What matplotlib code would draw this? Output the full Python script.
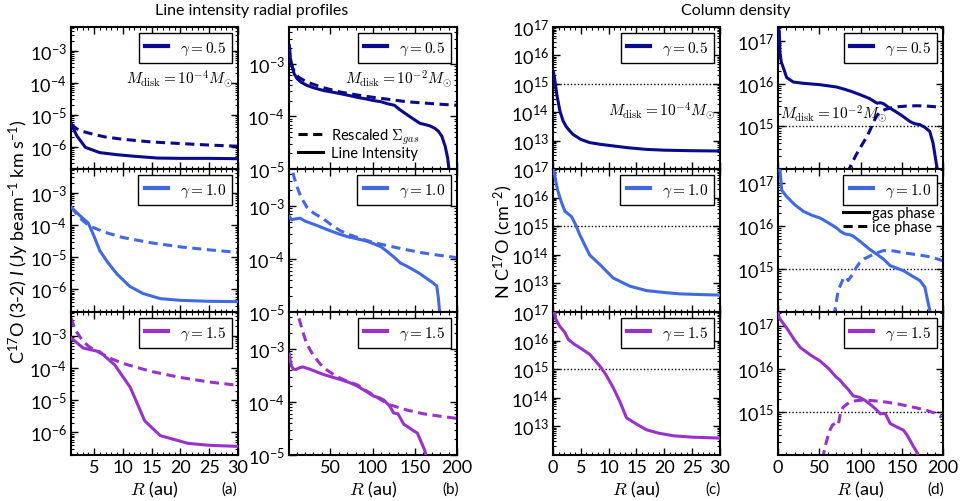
import matplotlib
matplotlib.use('Agg')
import matplotlib.pyplot as plt
from matplotlib.lines import Line2D
from matplotlib.ticker import MultipleLocator, FixedLocator, LogLocator, NullFormatter, LogFormatterSciNotation

# ---------------- data ----------------
gammas = ["$\\gamma=0.5$", "$\\gamma=1.0$", "$\\gamma=1.5$"]
colors = ["#0a0a8c", "#4169e1", "#9932cc"]

# Panel (a): line intensity, Mdisk=1e-4
a1_sol_r = [1, 2, 3.5, 6, 9, 12, 16, 20, 25, 30]
a1_sol_v = [5.2e-6, 2.2e-6, 9.5e-7, 6.5e-7, 5.6e-7, 5.0e-7, 4.4e-7, 4.3e-7, 4.3e-7, 4.2e-7]
a1_das_r = [1, 2, 3, 5, 7, 10, 15, 20, 25, 30]
a1_das_v = [5.0e-6, 3.6e-6, 3.0e-6, 2.4e-6, 2.0e-6, 1.7e-6, 1.4e-6, 1.25e-6, 1.12e-6, 1.03e-6]
a2_sol_r = [1, 2.5, 4, 5, 6, 7.5, 9, 11.2, 13.5, 16.5, 20, 25, 30]
a2_sol_v = [3.6e-4, 2.0e-4, 1.15e-4, 4.5e-5, 1.6e-5, 6.5e-6, 3.0e-6, 1.25e-6, 7.5e-7, 5.2e-7, 4.6e-7, 4.3e-7, 4.2e-7]
a2_das_r = [1, 2, 3, 4, 5, 7, 10, 15, 20, 25, 30]
a2_das_v = [3.6e-4, 2.2e-4, 1.4e-4, 1.0e-4, 8.2e-5, 5.9e-5, 4.1e-5, 2.8e-5, 2.1e-5, 1.7e-5, 1.42e-5]
a3_sol_r = [1, 3.1, 6, 8.6, 11.3, 13.8, 16.5, 21.3, 25, 30]
a3_sol_v = [8.7e-4, 4.2e-4, 3.2e-4, 1.25e-4, 2.5e-5, 2.3e-6, 8.0e-7, 4.6e-7, 4.0e-7, 3.7e-7]
a3_das_r = [1, 1.5, 2, 3, 4, 5, 6, 8, 10, 12, 15, 20, 25, 30]
a3_das_v = [3.6e-3, 2.0e-3, 1.3e-3, 7.2e-4, 4.8e-4, 3.7e-4, 3.0e-4, 1.95e-4, 1.4e-4, 1.1e-4, 7.8e-5, 5.1e-5, 3.7e-5, 2.9e-5]

# Panel (b): line intensity, Mdisk=1e-2
b1_sol_r = [1.5, 2.5, 4.7, 7, 10.6, 15, 22, 30, 42, 52, 62, 72, 82, 92, 101, 110, 117, 122, 126, 132, 140, 148, 156, 162, 168, 174, 178, 182, 186, 189, 192]
b1_sol_v = [2.2e-3, 1.3e-3, 9e-4, 6.5e-4, 5.2e-4, 4.5e-4, 3.9e-4, 3.5e-4, 3.1e-4, 2.9e-4, 2.7e-4, 2.5e-4, 2.3e-4, 2.15e-4, 2.0e-4, 1.9e-4, 1.75e-4, 1.68e-4, 1.62e-4, 1.35e-4, 1.1e-4, 9e-5, 7.4e-5, 7.0e-5, 6.6e-5, 5.9e-5, 5.2e-5, 4.2e-5, 2.7e-5, 1.6e-5, 6e-6]
b1_das_r = [1.5, 2, 3, 5, 8, 12, 22, 42, 62, 82, 101, 120, 140, 160, 180, 200]
b1_das_v = [2.0e-3, 1.4e-3, 1.1e-3, 8.5e-4, 6.9e-4, 5.6e-4, 4.5e-4, 3.5e-4, 2.9e-4, 2.55e-4, 2.3e-4, 2.1e-4, 1.9e-4, 1.8e-4, 1.7e-4, 1.63e-4]
b2_sol_r = [1.5, 4, 8, 14, 20, 34, 48, 62, 72, 82, 92, 101, 110, 117, 125, 133, 140, 148, 156, 164, 170, 176, 178, 181]
b2_sol_v = [6.3e-4, 5.5e-4, 5.7e-4, 5.9e-4, 5.2e-4, 4.3e-4, 3.5e-4, 2.9e-4, 2.6e-4, 2.4e-4, 2.2e-4, 1.95e-4, 1.7e-4, 1.4e-4, 1.1e-4, 8.4e-5, 7.4e-5, 6.3e-5, 5.3e-5, 4.3e-5, 3.7e-5, 3.1e-5, 1.8e-5, 5e-6]
b2_das_r = [3, 4.7, 7, 10.6, 15, 22, 30, 42, 52, 62, 72, 82, 101, 120, 140, 160, 180, 200]
b2_das_v = [8e-3, 5e-3, 3.5e-3, 2.3e-3, 1.5e-3, 9.6e-4, 7.4e-4, 5.7e-4, 4.3e-4, 3.4e-4, 2.9e-4, 2.55e-4, 2.05e-4, 1.75e-4, 1.5e-4, 1.3e-4, 1.17e-4, 1.06e-4]
b3_sol_r = [1.5, 2.5, 4, 6, 9, 13, 17, 25, 42, 62, 72, 82, 92, 101, 108, 113, 120, 125, 130, 137, 143, 148, 153, 158, 162, 166]
b3_sol_v = [8e-4, 6e-4, 4.8e-4, 4.2e-4, 4.1e-4, 4.4e-4, 4.6e-4, 4.2e-4, 3.3e-4, 2.65e-4, 2.35e-4, 2.0e-4, 1.6e-4, 1.3e-4, 1.2e-4, 1.1e-4, 8.5e-5, 6.2e-5, 6.0e-5, 3.8e-5, 3.3e-5, 2.9e-5, 2.6e-5, 1.7e-5, 1.2e-5, 6e-6]
b3_das_r = [5, 8, 12.5, 17, 22, 30, 38, 46, 54, 62, 72, 82, 92, 101, 110, 121, 140, 160, 180, 200]
b3_das_v = [2.5e-2, 9e-3, 4e-3, 2.2e-3, 1.25e-3, 7.5e-4, 5.2e-4, 4.0e-4, 3.3e-4, 2.8e-4, 2.4e-4, 2.1e-4, 1.65e-4, 1.35e-4, 1.1e-4, 8.8e-5, 7.1e-5, 6.0e-5, 5.4e-5, 4.9e-5]

# Panel (c): column density, Mdisk=1e-4 (gas only)
c1_sol_r = [0.1, 0.3, 0.7, 1.26, 1.8, 2.33, 3.0, 3.6, 5, 6.6, 8.5, 10.8, 13.5, 16.8, 20, 25, 30]
c1_sol_v = [2.5e15, 1.5e15, 4e14, 1.07e14, 5e13, 3.2e13, 2.2e13, 1.65e13, 1.1e13, 8.5e12, 7.4e12, 6.5e12, 5.6e12, 4.9e12, 4.6e12, 4.4e12, 4.3e12]
c2_sol_r = [0.1, 0.3, 0.8, 1.5, 2.15, 3.3, 4.0, 4.8, 5.7, 6.6, 8.4, 10.8, 13.8, 16.8, 20, 22.8, 26, 30]
c2_sol_v = [1e17, 6e16, 1.9e16, 7e15, 3.3e15, 2.2e15, 1.2e15, 5.1e14, 2.2e14, 9.8e13, 4.6e13, 1.55e13, 8e12, 5.6e12, 4.8e12, 4.3e12, 4.1e12, 3.9e12]
c3_sol_r = [0, 0.5, 1.2, 2.15, 2.75, 3.8, 4.8, 6.6, 8.4, 9.5, 10.8, 12, 13.2, 15, 16.8, 19, 21.6, 25, 30]
c3_sol_v = [1.5e17, 5.6e16, 3.2e16, 1.9e16, 1.1e16, 7.5e15, 5.7e15, 3.3e15, 1.3e15, 6.5e14, 2.3e14, 7.5e13, 2e13, 1.2e13, 7.6e12, 5.8e12, 4.7e12, 4.2e12, 3.9e12]

# Panel (d): column density, Mdisk=1e-2 (gas solid, ice dashed)
d1_sol_r = [0, 1.6, 2.4, 4, 6.4, 10.5, 18.5, 30, 51, 71, 81, 91, 101, 111, 117, 120, 124, 128, 134, 140, 150, 160, 166, 172, 178, 184, 188, 192, 194]
d1_sol_v = [2.2e17, 1.7e17, 5.4e16, 3.2e16, 2.4e16, 1.4e16, 1.1e16, 1.03e16, 9.5e15, 8.4e15, 7.4e15, 6.4e15, 5.4e15, 4.5e15, 3.8e15, 3.5e15, 3.6e15, 3.4e15, 2.8e15, 2.4e15, 1.8e15, 1.3e15, 1.15e15, 1.1e15, 9.5e14, 7.6e14, 4e14, 1.3e14, 8e13]
d1_das_r = [84, 89, 95, 101, 107, 112, 116, 120, 124, 130, 136, 146, 156, 168, 180, 190, 198]
d1_das_v = [8e13, 1.3e14, 2.2e14, 3.5e14, 5.4e14, 8.5e14, 1.3e15, 1.8e15, 2.2e15, 2.5e15, 2.7e15, 2.9e15, 3.0e15, 3.05e15, 3.0e15, 2.9e15, 2.7e15]
d2_sol_r = [0, 2.4, 4.5, 10.5, 20, 31, 41, 51, 61, 71, 76, 81, 86, 91, 101, 111, 120, 128, 136, 144, 152, 162, 172, 178, 181, 184, 186]
d2_sol_v = [3e17, 2e17, 6.9e16, 4.9e16, 3.2e16, 2.2e16, 1.8e16, 1.55e16, 1.2e16, 9.1e15, 7.5e15, 6.6e15, 6.4e15, 5.9e15, 4.2e15, 2.9e15, 2.2e15, 1.7e15, 1.2e15, 1.05e15, 9.2e14, 7e14, 5.4e14, 3.8e14, 2e14, 1.1e14, 8e13]
d2_das_r = [67, 69, 73, 79, 83, 85, 88, 91, 95, 99, 105, 111, 120, 128, 140, 152, 166, 180, 190, 200]
d2_das_v = [8e13, 1.1e14, 3.2e14, 5.9e14, 6.5e14, 5.4e14, 6.5e14, 7.7e14, 1.1e15, 1.4e15, 1.75e15, 2.0e15, 2.4e15, 2.7e15, 2.65e15, 2.4e15, 2.2e15, 2.0e15, 1.8e15, 1.56e15]
d3_sol_r = [0, 1.6, 10.5, 20, 27, 40, 51, 61, 71, 75, 79, 85, 91, 95, 99, 105, 111, 118, 124, 130, 136, 144, 152, 156, 160, 164, 168, 170]
d3_sol_v = [2.2e17, 1.55e17, 9.1e16, 4.8e16, 3.2e16, 2.1e16, 1.55e16, 1.05e16, 6.4e15, 5.6e15, 4.5e15, 3.4e15, 2.4e15, 2.3e15, 2.2e15, 1.9e15, 1.56e15, 1.2e15, 9.1e14, 9.3e14, 5.4e14, 4.5e14, 3.8e14, 3.0e14, 2.2e14, 1.6e14, 1.2e14, 9e13]
d3_das_r = [54, 57, 60, 63, 66, 69, 73, 76, 79, 83, 87, 95, 103, 115, 132, 145, 156, 168, 180, 190, 198]
d3_das_v = [8e13, 1.55e14, 2.5e14, 3.8e14, 5.0e14, 5.4e14, 5.0e14, 1.0e15, 1.3e15, 1.5e15, 1.7e15, 1.85e15, 1.9e15, 1.85e15, 1.7e15, 1.55e15, 1.4e15, 1.25e15, 1.1e15, 9.5e14, 7.6e14]

mdisk_a = "$M_{\\rm disk}=10^{-4}M_{\\odot}$"
mdisk_b = "$M_{\\rm disk}=10^{-2}M_{\\odot}$"
panel_tags = ["(a)", "(b)", "(c)", "(d)"]

# ---------------- style ----------------
plt.rcParams['font.family'] = ['Lato', 'DejaVu Sans']
plt.rcParams['mathtext.fontset'] = 'custom'
plt.rcParams['mathtext.rm'] = 'Lato'
plt.rcParams['mathtext.it'] = 'Lato:italic'
plt.rcParams['mathtext.bf'] = 'Lato:bold'
plt.rcParams['axes.unicode_minus'] = False

W, H = 970, 502
fig = plt.figure(figsize=(W / 100, H / 100), dpi=100)

cols = [(71, 238), (289, 457), (553, 720), (778, 943)]
rows = [(28, 170), (170, 313), (313, 456)]
xlims = [(1, 30), (1, 200), (0, 30), (0, 200)]
ylims = [(2e-7, 5.5e-3), (1e-5, 5e-3), (1e12, 1e17), (1e14, 2.15e17)]
yticks = [[1e-6, 1e-5, 1e-4, 1e-3], [1e-5, 1e-4, 1e-3], [1e13, 1e14, 1e15, 1e16, 1e17], [1e15, 1e16, 1e17]]
xmaj = [5, 50, 5, 50]
xmin = [1, 10, 1, 10]

TICKFS = 13
LW = 2.2

def make_ax(ci, ri):
    x0, x1 = cols[ci]
    y0, y1 = rows[ri]
    ax = fig.add_axes([x0 / W, 1 - y1 / H, (x1 - x0) / W, (y1 - y0) / H])
    ax.set_yscale('log')
    ax.set_xlim(*xlims[ci])
    ax.set_ylim(*ylims[ci])
    ax.yaxis.set_major_locator(FixedLocator(yticks[ci]))
    ax.yaxis.set_major_formatter(LogFormatterSciNotation())
    ax.yaxis.set_minor_locator(LogLocator(base=10, subs=range(2, 10), numticks=20))
    ax.yaxis.set_minor_formatter(NullFormatter())
    ax.xaxis.set_major_locator(MultipleLocator(xmaj[ci]))
    ax.xaxis.set_minor_locator(MultipleLocator(xmin[ci]))
    for s in ax.spines.values():
        s.set_linewidth(1.5)
    ax.tick_params(which='both', direction='in', top=True, right=True, labelsize=TICKFS, pad=3)
    ax.tick_params(which='major', length=5, width=1)
    ax.tick_params(which='minor', length=2.5, width=0.8)
    if ri < 2:
        ax.tick_params(labelbottom=False)
    return ax

def gamma_legend(ax, ri):
    h = [Line2D([], [], color=colors[ri], lw=3)]
    leg = ax.legend(h, [gammas[ri]], loc='upper right', fontsize=11, fancybox=False,
                    edgecolor='black', framealpha=1, handlelength=1.55, borderaxespad=0.4,
                    borderpad=0.4, handletextpad=0.75)
    leg.get_frame().set_linewidth(1.0)
    for t in leg.get_texts():
        t.set_math_fontfamily('cm')
    return leg

series = {
    0: [(a1_sol_r, a1_sol_v, a1_das_r, a1_das_v), (a2_sol_r, a2_sol_v, a2_das_r, a2_das_v), (a3_sol_r, a3_sol_v, a3_das_r, a3_das_v)],
    1: [(b1_sol_r, b1_sol_v, b1_das_r, b1_das_v), (b2_sol_r, b2_sol_v, b2_das_r, b2_das_v), (b3_sol_r, b3_sol_v, b3_das_r, b3_das_v)],
    2: [(c1_sol_r, c1_sol_v, None, None), (c2_sol_r, c2_sol_v, None, None), (c3_sol_r, c3_sol_v, None, None)],
    3: [(d1_sol_r, d1_sol_v, d1_das_r, d1_das_v), (d2_sol_r, d2_sol_v, d2_das_r, d2_das_v), (d3_sol_r, d3_sol_v, d3_das_r, d3_das_v)],
}

axes = {}
for ci in range(4):
    for ri in range(3):
        ax = make_ax(ci, ri)
        axes[(ci, ri)] = ax
        sr, sv, dr, dv = series[ci][ri]
        if ci >= 2:
            ax.axhline(1e15, color='black', lw=1.0, ls=(0, (1, 1.5)), zorder=1)
        if dr is not None:
            ax.plot(dr, dv, color=colors[ri], lw=LW, ls=(0, (3, 1.8)), zorder=2)
        ax.plot(sr, sv, color=colors[ri], lw=LW, zorder=3, solid_joinstyle='round')
        gamma_legend(ax, ri)

# annotations
t = axes[(0, 0)].text(0.97, 0.64, mdisk_a, transform=axes[(0, 0)].transAxes, ha='right', va='center', fontsize=11)
t.set_math_fontfamily('cm')
t = axes[(1, 0)].text(0.97, 0.64, mdisk_b, transform=axes[(1, 0)].transAxes, ha='right', va='center', fontsize=11)
t.set_math_fontfamily('cm')
t = axes[(2, 0)].text(0.97, 0.42, mdisk_a, transform=axes[(2, 0)].transAxes, ha='right', va='center', fontsize=11)
t.set_math_fontfamily('cm')
t = axes[(3, 0)].text(0.01, 0.40, mdisk_b, transform=axes[(3, 0)].transAxes, ha='left', va='center', fontsize=11)
t.set_math_fontfamily('cm')

# extra legends
axb = axes[(1, 0)]
leg0 = axb.get_legend()
h2 = [Line2D([], [], color='black', lw=2.2, ls=(0, (3, 1.8))), Line2D([], [], color='black', lw=2.2)]
leg2 = axb.legend(h2, ["Rescaled $\\Sigma_{gas}$", "Line Intensity"], loc='upper left',
                  bbox_to_anchor=(0.0, 0.36), frameon=False, fontsize=10.5, handlelength=1.75,
                  handletextpad=0.55, labelspacing=0.02, borderaxespad=0.2)
for tx in leg2.get_texts():
    tx.set_math_fontfamily('cm')
axb.add_artist(leg0)

axd = axes[(3, 1)]
leg0 = axd.get_legend()
h3 = [Line2D([], [], color='black', lw=2.2), Line2D([], [], color='black', lw=2.2, ls=(0, (3, 1.8)))]
leg3 = axd.legend(h3, ["gas phase", "ice phase"], loc='upper left', bbox_to_anchor=(0.36, 0.78),
                  frameon=False, fontsize=10.5, handlelength=1.8, handletextpad=0.2,
                  labelspacing=0.0, borderaxespad=0.0)
axd.add_artist(leg0)

# labels
for ci in range(4):
    x0, x1 = cols[ci]
    t = fig.text((x0 + x1) / 2 / W, 1 - 490 / H, "$R$ (au)", ha='center', va='center', fontsize=13)
    t.set_math_fontfamily('cm')
tag_x = [229, 451, 713, 936]
for ci in range(4):
    fig.text(tag_x[ci] / W, 1 - 490 / H, panel_tags[ci], ha='center', va='center', fontsize=11)

fig.text(19 / W, 1 - 242 / H, "C$^{17}$O (3-2) $I$ (Jy beam$^{-1}$ km s$^{-1}$)", rotation=90,
         ha='center', va='center', fontsize=13)
fig.text(503 / W, 1 - 242 / H, "N C$^{17}$O (cm$^{-2}$)", rotation=90, ha='center', va='center', fontsize=13)

fig.text(252 / W, 1 - 11 / H, "Line intensity radial profiles", ha='center', va='center', fontsize=11.5)
fig.text(736 / W, 1 - 11 / H, "Column density", ha='center', va='center', fontsize=11.5)

fig.savefig('out.png', dpi=100)
